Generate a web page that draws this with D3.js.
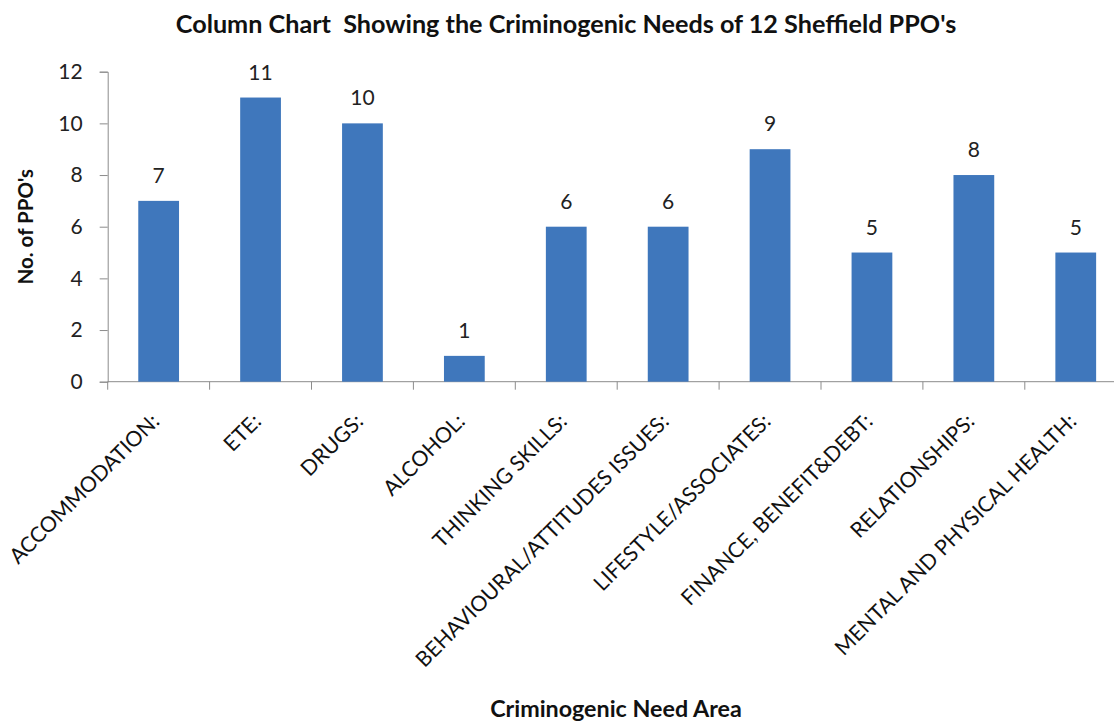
<!DOCTYPE html>
<html>
<head>
<meta charset="utf-8">
<script src="https://cdn.jsdelivr.net/npm/d3@7"></script>
<style>
  html, body { margin: 0; padding: 0; background: #fff; }
  svg { display: block; font-family: Lato, "Open Sans", sans-serif; }
</style>
</head>
<body>
<svg id="chart" width="1114" height="723"></svg>
<script>
// Criminogenic need areas and number of PPOs flagged with each need
const categories = [
  "ACCOMMODATION:",
  "ETE:",
  "DRUGS:",
  "ALCOHOL:",
  "THINKING SKILLS:",
  "BEHAVIOURAL/ATTITUDES ISSUES:",
  "LIFESTYLE/ASSOCIATES:",
  "FINANCE, BENEFIT&DEBT:",
  "RELATIONSHIPS:",
  "MENTAL AND PHYSICAL HEALTH:"
];
const counts = [7, 11, 10, 1, 6, 6, 9, 5, 8, 5];
const yTicks = [0, 2, 4, 6, 8, 10, 12];

const titleText = "Column Chart  Showing the Criminogenic Needs of 12 Sheffield PPO's";
const yTitle = "No. of PPO's";
const xTitle = "Criminogenic Need Area";

const svg = d3.select("#chart");
const plot = { left: 107.7, right: 1126.7, top: 71.7, bottom: 381.7 };
const axisColor = "#8c8c8c";
const barColor = "#3f77bc";

const x = d3.scaleBand()
  .domain(categories)
  .range([plot.left, plot.right])
  .paddingInner(0.6)
  .paddingOuter(0.3);

const y = d3.scaleLinear().domain([0, 12]).range([plot.bottom, plot.top]);

// Title
svg.append("text")
  .attr("x", 566)
  .attr("y", 33)
  .attr("text-anchor", "middle")
  .attr("font-weight", "bold")
  .attr("font-size", 25.2)
  .attr("fill", "#111")
  .style("white-space", "pre")
  .text(titleText);

// Y axis
const yAxis = svg.append("g")
  .attr("transform", `translate(${plot.left},0)`)
  .call(d3.axisLeft(y).tickValues(yTicks).tickSize(8).tickPadding(17));
yAxis.select(".domain").attr("stroke", axisColor);
yAxis.selectAll(".tick line").attr("stroke", axisColor);
yAxis.selectAll(".tick text")
  .attr("font-size", 21)
  .attr("fill", "#222")
  .attr("font-family", "Lato, sans-serif");

// X axis baseline with ticks on band boundaries
const step = x.step();
const boundaries = categories.map((c, i) => plot.left + i * step).concat([plot.right]);
svg.append("line")
  .attr("x1", plot.left).attr("x2", plot.right)
  .attr("y1", y(0)).attr("y2", y(0))
  .attr("stroke", axisColor);
svg.append("g").selectAll("line")
  .data(boundaries)
  .join("line")
  .attr("x1", d => d).attr("x2", d => d)
  .attr("y1", y(0)).attr("y2", y(0) + 8)
  .attr("stroke", axisColor);

// Bars
svg.append("g").selectAll("rect")
  .data(counts)
  .join("rect")
  .attr("x", (d, i) => x(categories[i]))
  .attr("width", x.bandwidth())
  .attr("y", d => y(d))
  .attr("height", d => y(0) - y(d))
  .attr("fill", barColor);

// Value labels
svg.append("g").selectAll("text")
  .data(counts)
  .join("text")
  .attr("x", (d, i) => x(categories[i]) + x.bandwidth() / 2)
  .attr("y", d => y(d) - 18)
  .attr("text-anchor", "middle")
  .attr("font-size", 21)
  .attr("fill", "#222")
  .text(d => d);

// Rotated category labels
svg.append("g").selectAll("text")
  .data(categories)
  .join("text")
  .attr("transform", c => `translate(${x(c) + x.bandwidth() / 2 + 2},${y(0) + 41}) rotate(-45)`)
  .attr("text-anchor", "end")
  .attr("font-size", 21.3)
  .attr("fill", "#111")
  .text(c => c);

// Axis titles
svg.append("text")
  .attr("transform", `translate(33,${(plot.top + plot.bottom) / 2}) rotate(-90)`)
  .attr("text-anchor", "middle")
  .attr("font-weight", "bold")
  .attr("font-size", 20.5)
  .attr("fill", "#111")
  .text(yTitle);

svg.append("text")
  .attr("x", 616)
  .attr("y", 717)
  .attr("text-anchor", "middle")
  .attr("font-weight", "bold")
  .attr("font-size", 23.3)
  .attr("fill", "#111")
  .text(xTitle);
</script>
</body>
</html>
